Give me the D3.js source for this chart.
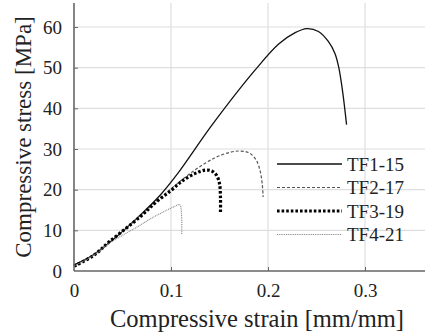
<!DOCTYPE html>
<html>
<head>
<meta charset="utf-8">
<title>Compressive stress-strain</title>
<style>
  body { margin: 0; background: #fff; }
  svg { display: block; }
  svg text { font-family: "Liberation Serif", "DejaVu Serif", serif !important; }
  .grid line { stroke: #dedede; stroke-width: 1.2; }
  .axis path { display: none; }
  .axis line { stroke: #666; }
  .axis text { font-size: 19px; fill: #222; }
</style>
</head>
<body>
<script src="https://cdn.jsdelivr.net/npm/d3@7"></script>
<script>
var width = 425, height = 334;
var serif = "Liberation Serif";

// tick values
var xTicks = [0, 0.1, 0.2, 0.3];
var yTicks = [0, 10, 20, 30, 40, 50, 60];

// series (strain in mm/mm, stress in MPa)
var names = ["TF1-15", "TF2-17", "TF3-19", "TF4-21"];
var tf1Strain = [0, 0.02, 0.044, 0.065, 0.089, 0.107, 0.142, 0.187, 0.211, 0.228, 0.24, 0.252, 0.262, 0.269, 0.273, 0.277, 0.281];
var tf1Stress = [1.5, 4, 8.5, 13, 18.7, 24, 35.8, 49.5, 55.8, 58.6, 59.6, 58.9, 56.5, 53.5, 50, 44, 36];
var tf2Strain = [0, 0.02, 0.04, 0.07, 0.1, 0.125, 0.145, 0.161, 0.172, 0.181, 0.188, 0.192, 0.194, 0.195];
var tf2Stress = [1.3, 3.9, 7.6, 14, 20.2, 24.9, 27.8, 29.2, 29.5, 29, 27.2, 24.5, 21.5, 18.2];
var tf3Strain = [0, 0.02, 0.037, 0.068, 0.085, 0.1, 0.112, 0.125, 0.135, 0.142, 0.147, 0.15, 0.151, 0.151];
var tf3Stress = [1.2, 3.8, 7.3, 13.3, 17, 19.8, 22.2, 24, 24.8, 24.6, 23.5, 21.5, 18, 14.5];
var tf4Strain = [0, 0.02, 0.037, 0.05, 0.065, 0.08, 0.096, 0.104, 0.109, 0.111, 0.111];
var tf4Stress = [1.2, 3.8, 6.9, 8.8, 10.8, 13, 15, 15.9, 16.3, 13, 9];

var series = [
  { name: names[0], x: tf1Strain, y: tf1Stress, color: "#111", w: 1.3, dash: null },
  { name: names[1], x: tf2Strain, y: tf2Stress, color: "#555", w: 1.2, dash: "3,2" },
  { name: names[2], x: tf3Strain, y: tf3Stress, color: "#000", w: 3.2, dash: "2.6,2" },
  { name: names[3], x: tf4Strain, y: tf4Stress, color: "#8a8a8a", w: 1.1, dash: "1,0.8" }
];

var x = d3.scaleLinear().domain([0, 0.3]).range([74, 365]);
var y = d3.scaleLinear().domain([0, 60]).range([271, 27]);
var xMax = x.invert(width), yMax = y.invert(3);

var svg = d3.select("body").append("svg")
    .attr("width", width)
    .attr("height", height);

// grid
var grid = svg.append("g").attr("class", "grid");
grid.selectAll(".gx").data(xTicks.slice(1)).enter().append("line")
    .attr("x1", x).attr("x2", x)
    .attr("y1", y(0)).attr("y2", y(yMax));
grid.selectAll(".gy").data(yTicks.slice(1)).enter().append("line")
    .attr("x1", x(0)).attr("x2", x(xMax))
    .attr("y1", y).attr("y2", y);

// curves
var line = d3.line()
    .x(function(d) { return x(d[0]); })
    .y(function(d) { return y(d[1]); })
    .curve(d3.curveCatmullRom.alpha(0.5));

svg.append("g").selectAll("path")
    .data(series).enter().append("path")
    .attr("d", function(s) { return line(s.x.map(function(v, i) { return [v, s.y[i]]; })); })
    .attr("fill", "none")
    .attr("stroke", function(s) { return s.color; })
    .attr("stroke-width", function(s) { return s.w; })
    .attr("stroke-dasharray", function(s) { return s.dash; });

// axes
var gx = svg.append("g").attr("class", "axis")
    .attr("transform", "translate(0," + y(0) + ")")
    .call(d3.axisBottom(x).tickValues(xTicks).tickFormat(d3.format("")).tickSizeInner(-4).tickSizeOuter(0).tickPadding(13));
gx.attr("font-family", serif).attr("font-size", 19);
gx.selectAll("text").attr("dy", "0.71em");
gx.selectAll(".tick").filter(function(d) { return d === 0; }).select("line").remove();

var gy = svg.append("g").attr("class", "axis")
    .attr("transform", "translate(" + x(0) + ",0)")
    .call(d3.axisLeft(y).tickValues(yTicks).tickSizeInner(-4).tickSizeOuter(0).tickPadding(12));
gy.attr("font-family", serif).attr("font-size", 19);
gy.selectAll(".tick").filter(function(d) { return d === 0; }).select("line").remove();

svg.append("line")
    .attr("x1", x(0)).attr("x2", x(xMax)).attr("y1", y(0)).attr("y2", y(0))
    .attr("stroke", "#666").attr("stroke-width", 1.6);
svg.append("line")
    .attr("x1", x(0)).attr("x2", x(0)).attr("y1", y(0)).attr("y2", y(yMax))
    .attr("stroke", "#666").attr("stroke-width", 1.6);

// axis titles
svg.append("text")
    .attr("x", 257).attr("y", 327)
    .attr("text-anchor", "middle")
    .attr("font-family", serif)
    .attr("font-size", 24.5).attr("fill", "#222")
    .text("Compressive strain [mm/mm]");
svg.append("text")
    .attr("transform", "translate(31,137) rotate(-90)")
    .attr("text-anchor", "middle")
    .attr("font-family", serif)
    .attr("font-size", 23).attr("fill", "#222")
    .text("Compressive stress [MPa]");

// legend
var legend = svg.append("g").selectAll("g")
    .data(series).enter().append("g")
    .attr("transform", function(d, i) { return "translate(277," + (164 + i * 23.5) + ")"; });
legend.append("line")
    .attr("x1", 0).attr("x2", 65)
    .attr("stroke", function(s) { return s.color; })
    .attr("stroke-width", function(s) { return s.w; })
    .attr("stroke-dasharray", function(s) { return s.dash; });
legend.append("text")
    .attr("x", 70).attr("dy", "0.35em")
    .attr("font-family", serif)
    .attr("font-size", 19).attr("fill", "#222")
    .text(function(s) { return s.name; });
</script>
</body>
</html>
